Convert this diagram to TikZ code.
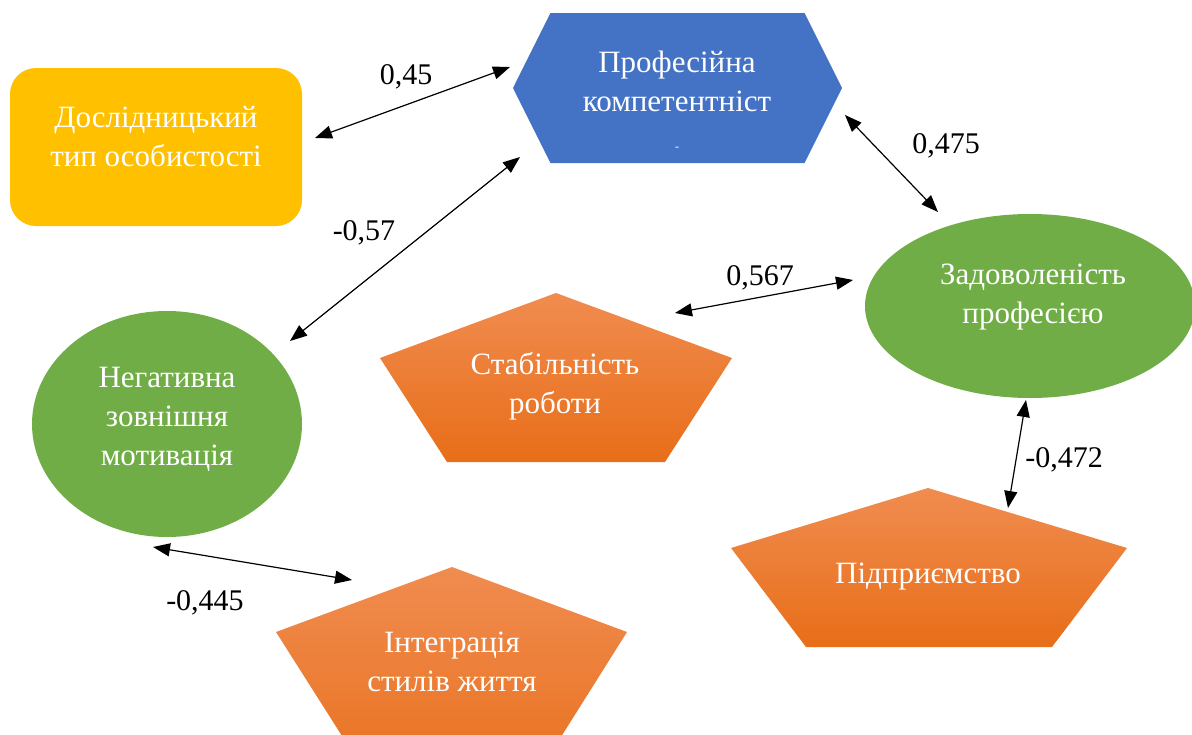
\documentclass[tikz,border=0pt]{standalone}
\usepackage{fontspec}
\setmainfont{Liberation Serif}
\usetikzlibrary{arrows.meta,shapes.geometric,shapes.symbols}
\definecolor{gold}{HTML}{FFC000}
\definecolor{blu}{HTML}{4472C4}
\definecolor{grn}{HTML}{70AD47}
\definecolor{orlight}{HTML}{F08C50}
\definecolor{ordark}{HTML}{E86E18}
\tikzset{
  txt/.style={text=white, align=center, inner sep=0pt, font=\fontsize{31}{39}\selectfont},
  val/.style={inner sep=0pt, font=\fontsize{30}{36}\selectfont},
  link/.style={{Triangle[length=17pt,width=13pt]}-{Triangle[length=17pt,width=13pt]}, line width=1.2pt},
  penta/.style={top color=orlight, bottom color=ordark, draw=none},
}
\begin{document}
\begin{tikzpicture}[x=1pt,y=-1pt]
    \clip (0,0) rectangle (1192,734);
    \node[fill=gold, rounded corners=26pt, minimum width=292pt, minimum height=158pt] (dosl) at (156,147) {};
    \node[signal, signal to=west and east, signal pointer angle=127, fill=blu, inner sep=0pt,
          minimum width=329pt, minimum height=150pt] (prof) at (677.5,88) {};
    \node[ellipse, fill=grn, inner sep=0pt, minimum width=330pt, minimum height=184pt] (zad) at (1030,306) {};
    \node[ellipse, fill=grn, inner sep=0pt, minimum width=270pt, minimum height=226pt] (neh) at (167,424) {};
    \path[penta] (556,293) -- (732,358) -- (665,462) -- (447,462) -- (380,358) -- cycle;
    \path[penta] (928,488) -- (1127,548) -- (1052,647) -- (806,647) -- (731,548) -- cycle;
    \path[penta] (452,567) -- (627,632) -- (515,810) -- (389,810) -- (276,632) -- cycle;

    \node[txt] (dosltxt) at (156,137) {Дослідницький\\тип особистості};
    \node[txt] (proftxt) at (677,101) {Професійна\\компетентніст\\{\fontsize{12}{12}\selectfont -}};
    \node[txt] (zadtxt) at (1033,297) {Задоволеність\\професією};
    \node[txt] (nehtxt) at (167,419) {Негативна\\зовнішня\\мотивація};
    \node[txt] (stab) at (555,386) {Стабільність\\роботи};
    \node[txt] (pidp) at (928,577) {Підприємство};
    \node[txt] (inte) at (452,662) {Інтеграція\\стилів життя};

    \coordinate (a1) at (315,138); \coordinate (b1) at (510,67);
    \coordinate (a2) at (290,341); \coordinate (b2) at (520,157);
    \coordinate (a3) at (845,115); \coordinate (b3) at (938,212);
    \coordinate (a4) at (675,313); \coordinate (b4) at (853,280);
    \coordinate (a5) at (1026,400); \coordinate (b5) at (1008,508);
    \coordinate (a6) at (153,547); \coordinate (b6) at (352,580);
    \draw[link] (a1) -- (b1);
    \draw[link] (a2) -- (b2);
    \draw[link] (a3) -- (b3);
    \draw[link] (a4) -- (b4);
    \draw[link] (a5) -- (b5);
    \draw[link] (a6) -- (b6);

    \node[val] (r1) at (406,77) {0,45};
    \node[val] (r2) at (364,233) {-0,57};
    \node[val] (r3) at (946,146) {0,475};
    \node[val] (r4) at (760,278) {0,567};
    \node[val] (r5) at (1064,460) {-0,472};
    \node[val] (r6) at (205,603) {-0,445};
\end{tikzpicture}
\end{document}
